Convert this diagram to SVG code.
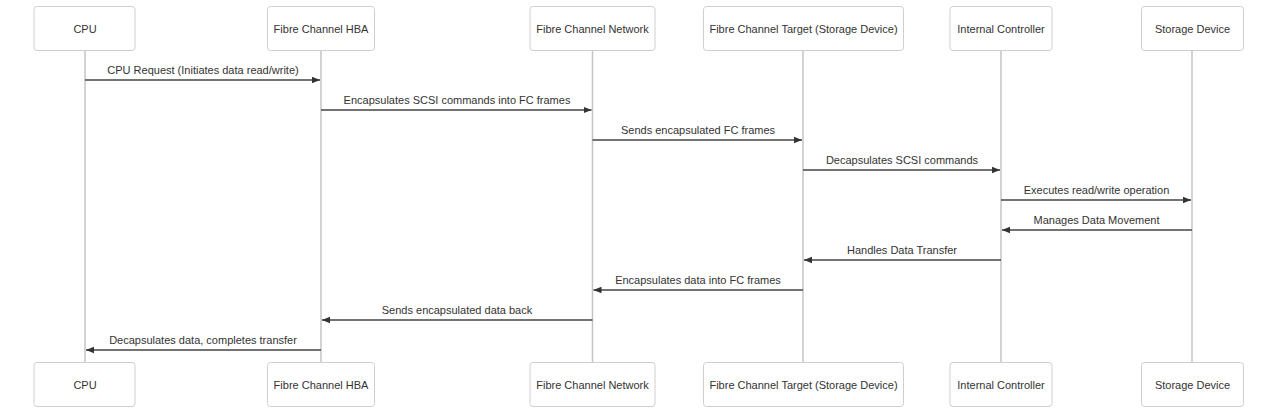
<svg xmlns="http://www.w3.org/2000/svg" width="1280" height="415" viewBox="0 0 1280 415">
<style>
.box{fill:#fff;stroke:#cfcfcf;stroke-width:1}
.life{stroke:#c4c4c4;stroke-width:1.5}
.nt{font-family:"Liberation Sans",Arial,sans-serif;font-size:11px;fill:#333;text-anchor:middle;dominant-baseline:central}
.msg{stroke:#444;stroke-width:1.3;fill:none;marker-end:url(#ah)}
.ml{font-family:"Liberation Sans",Arial,sans-serif;font-size:11px;fill:#333;text-anchor:middle}
</style>
<defs>
<marker id="ah" viewBox="0 0 10 10" refX="10" refY="5" markerWidth="8" markerHeight="8" markerUnits="userSpaceOnUse" orient="auto">
<path d="M0,1 L10,5 L0,9 z" fill="#333"/>
</marker>
</defs>
<rect width="1280" height="415" fill="#fff"/>
<g id="lifelines">
<line class="life" x1="85" y1="50.5" x2="85" y2="362.5"/>
<line class="life" x1="321" y1="50.5" x2="321" y2="362.5"/>
<line class="life" x1="592.5" y1="50.5" x2="592.5" y2="362.5"/>
<line class="life" x1="803" y1="50.5" x2="803" y2="362.5"/>
<line class="life" x1="1001" y1="50.5" x2="1001" y2="362.5"/>
<line class="life" x1="1192" y1="50.5" x2="1192" y2="362.5"/>
</g>
<g id="cpu">
<rect class="box" x="34" y="6.5" width="101" height="44" rx="3"/><text class="nt" x="85" y="28.5">CPU</text>
<rect class="box" x="34" y="362.5" width="101" height="44" rx="3"/><text class="nt" x="85" y="384.5">CPU</text>
</g>
<g id="hba">
<rect class="box" x="267.5" y="6.5" width="107" height="44" rx="3"/><text class="nt" x="321" y="28.5">Fibre Channel HBA</text>
<rect class="box" x="267.5" y="362.5" width="107" height="44" rx="3"/><text class="nt" x="321" y="384.5">Fibre Channel HBA</text>
</g>
<g id="network">
<rect class="box" x="530" y="6.5" width="125" height="44" rx="3"/><text class="nt" x="592.5" y="28.5">Fibre Channel Network</text>
<rect class="box" x="530" y="362.5" width="125" height="44" rx="3"/><text class="nt" x="592.5" y="384.5">Fibre Channel Network</text>
</g>
<g id="target">
<rect class="box" x="703.5" y="6.5" width="200" height="44" rx="3"/><text class="nt" x="803.5" y="28.5">Fibre Channel Target (Storage Device)</text>
<rect class="box" x="703.5" y="362.5" width="200" height="44" rx="3"/><text class="nt" x="803.5" y="384.5">Fibre Channel Target (Storage Device)</text>
</g>
<g id="controller">
<rect class="box" x="950" y="6.5" width="102" height="44" rx="3"/><text class="nt" x="1001" y="28.5">Internal Controller</text>
<rect class="box" x="950" y="362.5" width="102" height="44" rx="3"/><text class="nt" x="1001" y="384.5">Internal Controller</text>
</g>
<g id="storage">
<rect class="box" x="1141.5" y="6.5" width="102" height="44" rx="3"/><text class="nt" x="1192.5" y="28.5">Storage Device</text>
<rect class="box" x="1141.5" y="362.5" width="102" height="44" rx="3"/><text class="nt" x="1192.5" y="384.5">Storage Device</text>
</g>
<g id="connectors">
<line class="msg" x1="85" y1="80" x2="320" y2="80"/><text class="ml" x="203" y="73.5">CPU Request (Initiates data read/write)</text>
<line class="msg" x1="321" y1="110" x2="591.5" y2="110"/><text class="ml" x="457" y="103.5">Encapsulates SCSI commands into FC frames</text>
<line class="msg" x1="592.5" y1="140" x2="802" y2="140"/><text class="ml" x="698" y="133.5">Sends encapsulated FC frames</text>
<line class="msg" x1="803" y1="170" x2="1000" y2="170"/><text class="ml" x="902" y="163.5">Decapsulates SCSI commands</text>
<line class="msg" x1="1001" y1="200" x2="1191" y2="200"/><text class="ml" x="1096.5" y="193.5">Executes read/write operation</text>
<line class="msg" x1="1192" y1="230" x2="1002" y2="230"/><text class="ml" x="1096.5" y="223.5">Manages Data Movement</text>
<line class="msg" x1="1001" y1="260" x2="804" y2="260"/><text class="ml" x="902" y="253.5">Handles Data Transfer</text>
<line class="msg" x1="803" y1="290" x2="593.5" y2="290"/><text class="ml" x="698" y="283.5">Encapsulates data into FC frames</text>
<line class="msg" x1="592.5" y1="320" x2="322" y2="320"/><text class="ml" x="457" y="313.5">Sends encapsulated data back</text>
<line class="msg" x1="321" y1="350" x2="86" y2="350"/><text class="ml" x="203" y="343.5">Decapsulates data, completes transfer</text>
</g>
</svg>
